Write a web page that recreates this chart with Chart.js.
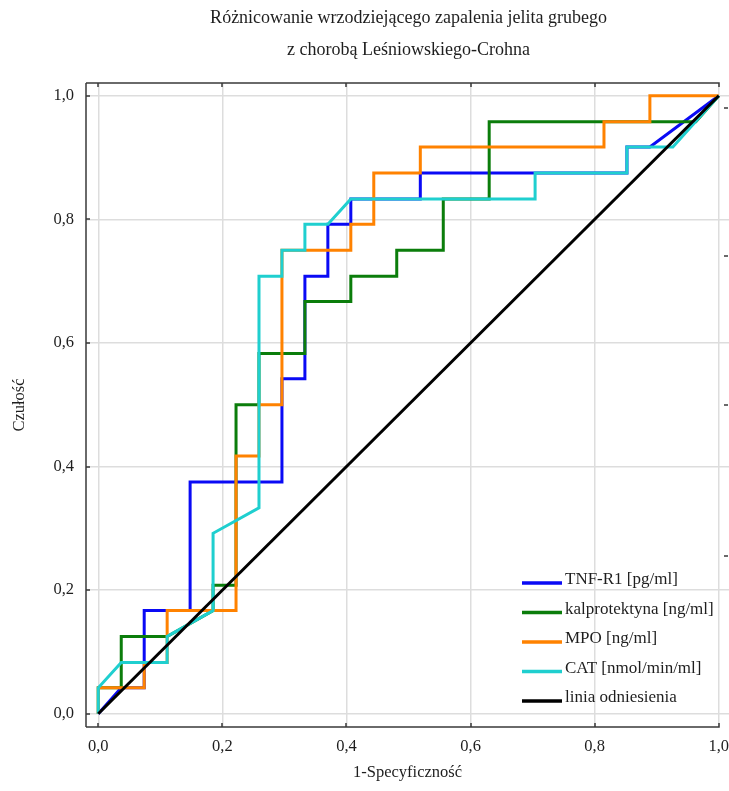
<!DOCTYPE html>
<html lang="pl">
<head>
<meta charset="utf-8">
<title>Krzywe ROC</title>
<script src="https://cdn.jsdelivr.net/npm/chart.js@4.4.1/dist/chart.umd.min.js"></script>
<style>
  html, body { margin: 0; padding: 0; background: #fff; }
  #wrap { width: 729px; height: 791px; }
</style>
</head>
<body>
<div id="wrap"><canvas id="chartRoc" width="729" height="791"></canvas></div>
<script>
// 1-specyficznosc (x) i czulosc (y) dla kazdego markera
const tnfX = [0, 0.037, 0.074, 0.074, 0.148, 0.148, 0.296, 0.296, 0.333, 0.333, 0.370, 0.370, 0.407, 0.407, 0.519, 0.519, 0.852, 0.852, 0.889, 1];
const tnfY = [0, 0.042, 0.042, 0.167, 0.167, 0.375, 0.375, 0.542, 0.542, 0.708, 0.708, 0.792, 0.792, 0.833, 0.833, 0.875, 0.875, 0.917, 0.917, 1];

const kalpX = [0, 0, 0.037, 0.037, 0.111, 0.185, 0.185, 0.222, 0.222, 0.259, 0.259, 0.333, 0.333, 0.407, 0.407, 0.481, 0.481, 0.556, 0.556, 0.630, 0.630, 0.963, 1];
const kalpY = [0, 0.042, 0.042, 0.125, 0.125, 0.167, 0.208, 0.208, 0.5, 0.5, 0.583, 0.583, 0.667, 0.667, 0.708, 0.708, 0.75, 0.75, 0.833, 0.833, 0.958, 0.958, 1];

const mpoX = [0, 0, 0.074, 0.074, 0.111, 0.111, 0.222, 0.222, 0.259, 0.259, 0.296, 0.296, 0.407, 0.407, 0.444, 0.444, 0.519, 0.519, 0.815, 0.815, 0.889, 0.889, 1];
const mpoY = [0, 0.042, 0.042, 0.083, 0.083, 0.167, 0.167, 0.417, 0.417, 0.5, 0.5, 0.75, 0.75, 0.792, 0.792, 0.875, 0.875, 0.917, 0.917, 0.958, 0.958, 1, 1];

const catX = [0, 0, 0.037, 0.111, 0.111, 0.185, 0.185, 0.259, 0.259, 0.296, 0.296, 0.333, 0.333, 0.370, 0.407, 0.704, 0.704, 0.852, 0.852, 0.926, 1];
const catY = [0, 0.042, 0.083, 0.083, 0.125, 0.167, 0.292, 0.333, 0.708, 0.708, 0.75, 0.75, 0.792, 0.792, 0.833, 0.833, 0.875, 0.875, 0.917, 0.917, 1];

const refX = [0, 1];
const refY = [0, 1];

const seriesLabels = ['TNF-R1 [pg/ml]', 'kalprotektyna [ng/ml]', 'MPO [ng/ml]', 'CAT [nmol/min/ml]', 'linia odniesienia'];
const axisTicks = [0, 0.2, 0.4, 0.6, 0.8, 1.0];
const rightTicks = [0.98, 0.74, 0.5, 0.255];

const titleLines = ['Różnicowanie wrzodziejącego zapalenia jelita grubego', 'z chorobą Leśniowskiego-Crohna'];

const FONT = '"Liberation Serif", "Times New Roman", serif';
const TEXT = '#1e1e1e';

function pairs(xs, ys) {
  return xs.map((x, i) => ({ x: x, y: ys[i] }));
}

function fmt(v) {
  return v.toFixed(1).replace('.', ',');
}

// tytul nad wykresem
const titlePlugin = {
  id: 'rocTitle',
  afterDraw(chart) {
    const ctx = chart.ctx;
    const xs = chart.scales.x;
    const cx = (xs.getPixelForValue(0) + xs.getPixelForValue(1)) / 2;
    ctx.save();
    ctx.fillStyle = TEXT;
    ctx.font = '18px ' + FONT;
    ctx.textAlign = 'center';
    ctx.textBaseline = 'middle';
    ctx.fillText(titleLines[0], cx, 18);
    ctx.fillText(titleLines[1], cx, 50);
    ctx.restore();
  }
};

// ramka osi z krotkimi znacznikami do wewnatrz
const framePlugin = {
  id: 'rocFrame',
  afterDraw(chart) {
    const ctx = chart.ctx;
    const area = chart.chartArea;
    const xs = chart.scales.x;
    const ys = chart.scales.y;
    const xEnd = xs.getPixelForValue(1) + 1;
    ctx.save();
    ctx.strokeStyle = '#3a3a3a';
    ctx.lineWidth = 1.5;
    ctx.beginPath();
    ctx.moveTo(area.left, area.top);
    ctx.lineTo(area.left, area.bottom);
    ctx.moveTo(area.left, area.top);
    ctx.lineTo(xEnd, area.top);
    ctx.moveTo(area.left, area.bottom);
    ctx.lineTo(xEnd, area.bottom);
    axisTicks.forEach(v => {
      const px = Math.round(xs.getPixelForValue(v));
      ctx.moveTo(px, area.top);
      ctx.lineTo(px, area.top + 4);
      ctx.moveTo(px, area.bottom);
      ctx.lineTo(px, area.bottom - 4);
      const py = Math.round(ys.getPixelForValue(v));
      ctx.moveTo(area.left, py);
      ctx.lineTo(area.left + 4, py);
    });
    rightTicks.forEach(v => {
      const py = Math.round(ys.getPixelForValue(v));
      ctx.moveTo(area.right - 5, py);
      ctx.lineTo(area.right - 1, py);
    });
    ctx.stroke();
    ctx.restore();
  }
};

// legenda w prawym dolnym rogu obszaru wykresu
const legendPlugin = {
  id: 'rocLegend',
  afterDraw(chart) {
    const ctx = chart.ctx;
    const x0 = 522, x1 = 562, top = 583, step = 29.5;
    ctx.save();
    ctx.font = '17px ' + FONT;
    ctx.textAlign = 'left';
    ctx.textBaseline = 'alphabetic';
    chart.data.datasets.forEach((ds, i) => {
      const y = top + i * step;
      ctx.strokeStyle = ds.borderColor;
      ctx.lineWidth = 3.5;
      ctx.beginPath();
      ctx.moveTo(x0, y);
      ctx.lineTo(x1, y);
      ctx.stroke();
      ctx.fillStyle = TEXT;
      ctx.fillText(ds.label, x1 + 3, y + 1);
    });
    ctx.restore();
  }
};

function makeSet(label, xs, ys, color, order) {
  return {
    label: label,
    data: pairs(xs, ys),
    showLine: true,
    borderColor: color,
    backgroundColor: color,
    borderWidth: 3,
    pointRadius: 0,
    tension: 0,
    fill: false,
    order: order
  };
}

function setTicks(scale) {
  scale.ticks = axisTicks.map(v => ({ value: v }));
}

function criarGrafico() {
  const ctx = document.getElementById('chartRoc').getContext('2d');
  new Chart(ctx, {
    type: 'scatter',
    data: {
      datasets: [
        makeSet(seriesLabels[0], tnfX, tnfY, '#0a0af5', 5),
        makeSet(seriesLabels[1], kalpX, kalpY, '#0b7d0b', 4),
        makeSet(seriesLabels[2], mpoX, mpoY, '#ff8200', 3),
        makeSet(seriesLabels[3], catX, catY, '#1fcfcf', 2),
        makeSet(seriesLabels[4], refX, refY, '#000000', 1)
      ]
    },
    options: {
      responsive: false,
      animation: false,
      layout: { padding: { left: 0, top: 83, right: 0, bottom: 0 } },
      plugins: {
        legend: { display: false },
        title: { display: false },
        tooltip: { enabled: false }
      },
      scales: {
        x: {
          type: 'linear',
          min: -0.0198,
          max: 1.0165,
          afterBuildTicks: setTicks,
          afterFit: scale => {
            scale.height = 64;
            scale.paddingLeft = 0;
            scale.paddingRight = 0;
          },
          border: { display: false },
          grid: { color: '#dddddd', lineWidth: 1.5, drawTicks: false },
          ticks: {
            padding: 10,
            color: TEXT,
            font: { family: FONT, size: 16.5 },
            callback: v => fmt(v)
          },
          title: {
            display: true,
            text: '1-Specyficzność',
            color: TEXT,
            font: { family: FONT, size: 16.5 },
            padding: { top: 8, bottom: 8 }
          }
        },
        y: {
          type: 'linear',
          min: -0.0215,
          max: 1.0206,
          afterBuildTicks: setTicks,
          afterFit: scale => {
            scale.width = 86;
            scale.paddingTop = 0;
            scale.paddingBottom = 0;
          },
          border: { display: false },
          grid: { color: '#dddddd', lineWidth: 1.5, drawTicks: false },
          ticks: {
            padding: 12,
            color: TEXT,
            font: { family: FONT, size: 16.5 },
            callback: v => fmt(v)
          },
          title: {
            display: true,
            text: 'Czułość',
            color: TEXT,
            font: { family: FONT, size: 16.5 },
            padding: { top: 10, bottom: 10 }
          }
        }
      }
    },
    plugins: [titlePlugin, framePlugin, legendPlugin]
  });
}

window.addEventListener('DOMContentLoaded', criarGrafico);
</script>
</body>
</html>
